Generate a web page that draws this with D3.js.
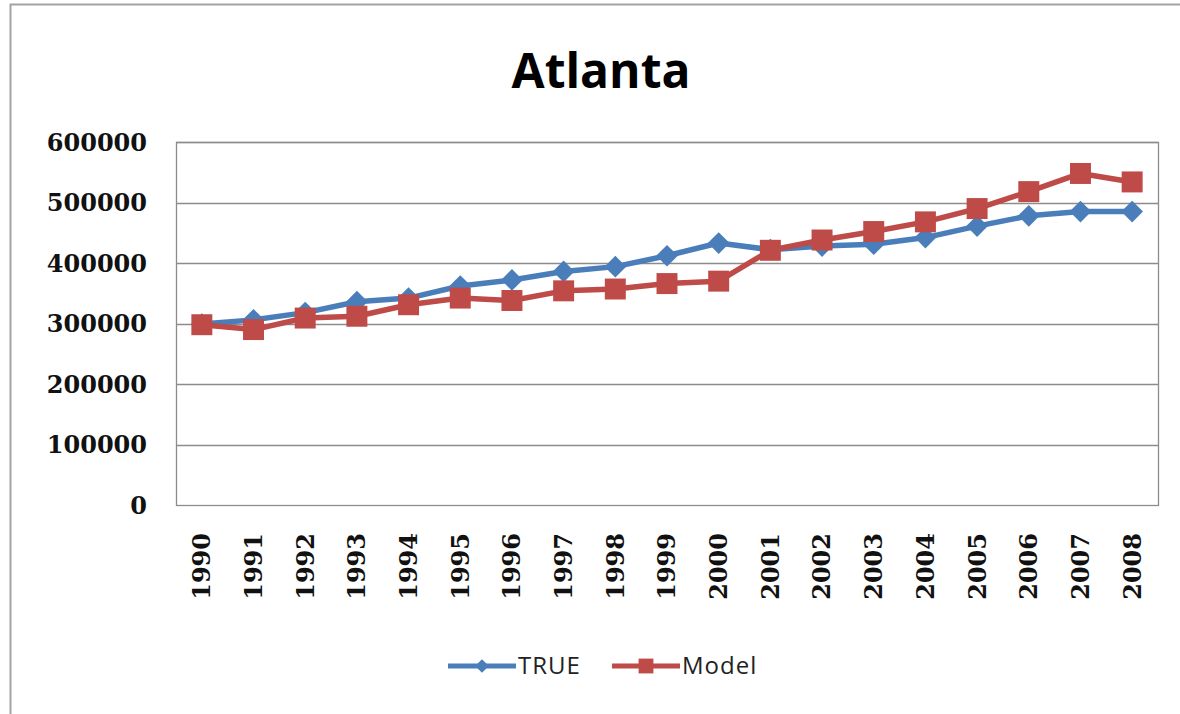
<!DOCTYPE html>
<html>
<head>
<meta charset="utf-8">
<script src="https://cdn.jsdelivr.net/npm/d3@7/dist/d3.min.js"></script>
<style>
  html, body { margin: 0; padding: 0; background: #fff; }
  svg { display: block; }
</style>
</head>
<body>
<svg id="chart" width="1180" height="714"></svg>
<script>
// Atlanta: observed values vs. model estimates, 1990–2008
const years = ["1990","1991","1992","1993","1994","1995","1996","1997","1998","1999",
               "2000","2001","2002","2003","2004","2005","2006","2007","2008"];
const trueValues = [299000, 306000, 318000, 336000, 342000, 362000, 372000, 386000, 394000, 412000,
                    433000, 422000, 428000, 431000, 442000, 461000, 478000, 485000, 485000];
const modelValues = [298000, 290000, 309000, 312000, 331000, 342000, 338000, 354000, 357000, 366000,
                     370000, 421000, 438000, 452000, 468000, 490000, 518000, 548000, 534000];
const yTicks = [0, 100000, 200000, 300000, 400000, 500000, 600000];
const seriesNames = ["TRUE", "Model"];
const seriesColors = ["#4a7ebb", "#be4b48"];

const svg = d3.select("#chart");
const plot = { left: 176, right: 1158, top: 142, bottom: 505 };

// outer chart frame
svg.append("path")
  .attr("d", `M10.5,714 L10.5,4.5 L1180,4.5`)
  .attr("fill", "none")
  .attr("stroke", "#a3a3a3")
  .attr("stroke-width", 2);

// title
svg.append("text")
  .attr("x", 601).attr("y", 88)
  .attr("text-anchor", "middle")
  .attr("font-family", "'Open Sans', 'Noto Sans', sans-serif")
  .attr("font-weight", "bold")
  .attr("font-size", 48)
  .attr("fill", "#000")
  .text("Atlanta");

const x = d3.scaleBand().domain(years).range([plot.left, plot.right]);
const y = d3.scaleLinear().domain([0, 600000]).range([plot.bottom, plot.top]);

// horizontal gridlines
svg.append("g")
  .selectAll("line")
  .data(yTicks.filter(d => d > 0))
  .join("line")
  .attr("x1", plot.left).attr("x2", plot.right)
  .attr("y1", d => Math.round(y(d)) + 0.5).attr("y2", d => Math.round(y(d)) + 0.5)
  .attr("stroke", "#8c8c8c").attr("stroke-width", 1.3);

// plot area frame
svg.append("rect")
  .attr("x", plot.left + 0.5).attr("y", plot.top + 0.5)
  .attr("width", plot.right - plot.left).attr("height", plot.bottom - plot.top)
  .attr("fill", "none").attr("stroke", "#8c8c8c").attr("stroke-width", 1.3);

// y axis labels
const yAxis = d3.axisLeft(y).tickValues(yTicks).tickSize(0).tickPadding(29)
  .tickFormat(d3.format("d"));
svg.append("g")
  .attr("transform", `translate(${plot.left},0)`)
  .call(yAxis)
  .call(g => g.select(".domain").remove())
  .selectAll("text")
  .attr("font-family", "'DejaVu Serif', serif")
  .attr("font-weight", "bold")
  .attr("font-size", 24)
  .attr("fill", "#111")
  .attr("dy", "0.35em");

// x axis labels, rotated
const xAxis = d3.axisBottom(x).tickSize(0).tickPadding(0);
const xg = svg.append("g")
  .attr("transform", `translate(0,${plot.bottom})`)
  .call(xAxis);
xg.select(".domain").remove();
xg.selectAll("text")
  .attr("font-family", "'DejaVu Serif', serif")
  .attr("font-weight", "bold")
  .attr("font-size", 24)
  .attr("fill", "#111")
  .attr("text-anchor", "end")
  .attr("transform", "translate(0,28) rotate(-90)")
  .attr("x", 0).attr("y", 0)
  .attr("dy", "0.35em");

const line = d3.line()
  .x((d, i) => x(years[i]) + x.bandwidth() / 2)
  .y(d => y(d));

const diamond = d3.symbol().type(d3.symbolDiamond2).size(300);
const square = d3.symbol().type(d3.symbolSquare2).size(560);

// TRUE series
svg.append("path")
  .datum(trueValues)
  .attr("d", line)
  .attr("fill", "none")
  .attr("stroke", seriesColors[0])
  .attr("stroke-width", 5.5)
  .attr("stroke-linejoin", "round");

// Model series
svg.append("path")
  .datum(modelValues)
  .attr("d", line)
  .attr("fill", "none")
  .attr("stroke", seriesColors[1])
  .attr("stroke-width", 5.5)
  .attr("stroke-linejoin", "round");

svg.append("g").selectAll("path")
  .data(trueValues)
  .join("path")
  .attr("d", diamond)
  .attr("transform", (d, i) => `translate(${x(years[i]) + x.bandwidth() / 2},${y(d)})`)
  .attr("fill", seriesColors[0]);

svg.append("g").selectAll("path")
  .data(modelValues)
  .join("path")
  .attr("d", square)
  .attr("transform", (d, i) => `translate(${x(years[i]) + x.bandwidth() / 2},${y(d)})`)
  .attr("fill", seriesColors[1]);

// legend
const legend = svg.append("g").attr("transform", "translate(448,666)");
const legendItems = [
  { name: seriesNames[0], color: seriesColors[0], sym: d3.symbol().type(d3.symbolDiamond2).size(120), x: 0 },
  { name: seriesNames[1], color: seriesColors[1], sym: d3.symbol().type(d3.symbolSquare2).size(280), x: 164 }
];
const li = legend.selectAll("g").data(legendItems).join("g")
  .attr("transform", d => `translate(${d.x},0)`);
li.append("line")
  .attr("x1", 0).attr("x2", 68).attr("y1", 0).attr("y2", 0)
  .attr("stroke", d => d.color).attr("stroke-width", 5);
li.append("path")
  .attr("d", d => d.sym())
  .attr("transform", "translate(34,0)")
  .attr("fill", d => d.color);
li.append("text")
  .attr("x", 70).attr("y", 0).attr("dy", "0.35em")
  .attr("font-family", "'Open Sans', 'Noto Sans', sans-serif")
  .attr("font-size", 24)
  .attr("letter-spacing", 1)
  .attr("fill", "#222")
  .text(d => d.name);
</script>
</body>
</html>
